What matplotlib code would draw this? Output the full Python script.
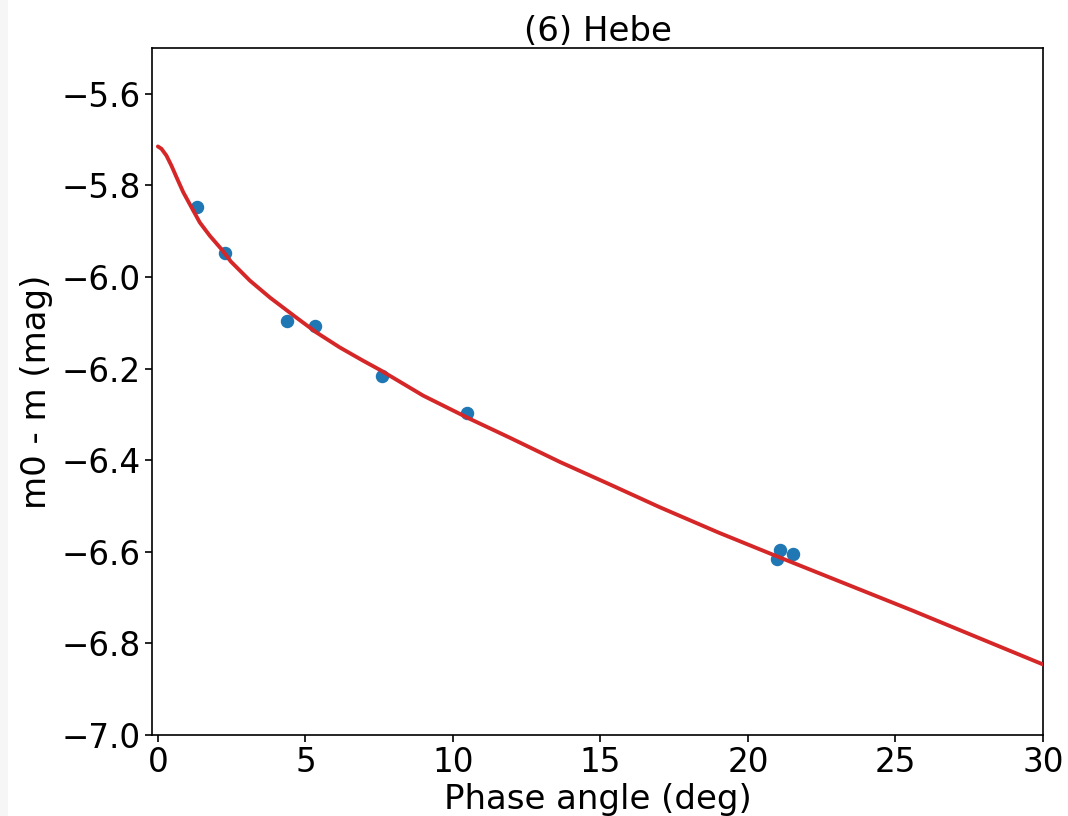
import matplotlib
matplotlib.use("Agg")
import matplotlib.pyplot as plt
from matplotlib.patches import Rectangle

# Observed reduced magnitudes
obs_phase = [1.32, 2.27, 4.36, 5.32, 7.58, 10.48, 20.97, 21.10, 21.51]
obs_mag = [-5.848, -5.948, -6.097, -6.107, -6.216, -6.297, -6.616, -6.596, -6.605]

# Fitted phase curve, sampled
fit_phase = [0.0, 0.12, 0.29, 0.46, 0.63, 0.86, 1.14, 1.42, 1.76, 2.15,
             2.47, 3.12, 3.80, 4.70, 5.37, 6.17, 6.96, 7.53, 8.99, 10.58,
             11.93, 13.63, 15.32, 17.02, 19.0, 21.1, 25.6, 30.0]
fit_mag = [-5.715, -5.720, -5.735, -5.757, -5.782, -5.815, -5.848, -5.881,
           -5.910, -5.939, -5.966, -6.008, -6.045, -6.089, -6.121, -6.154,
           -6.183, -6.203, -6.259, -6.310, -6.351, -6.404, -6.453, -6.503,
           -6.558, -6.613, -6.729, -6.846]

fig = plt.figure(figsize=(10.68, 8.16), dpi=100)
fig.patches.append(Rectangle((0, 0), 8 / 1068, 1, transform=fig.transFigure,
                             facecolor="#f6f6f6", edgecolor="none", zorder=0))
ax = fig.add_axes([0.1423, 0.0993, 0.8343, 0.8419])

ax.scatter(obs_phase, obs_mag, s=75, color="#1f77b4", zorder=2)
ax.plot(fit_phase, fit_mag, color="#d62728", lw=2.8, zorder=3,
        solid_joinstyle="round", solid_capstyle="round")

ax.set_xlim(-0.2, 30)
ax.set_ylim(-7.0, -5.5)
ax.set_xticks([0, 5, 10, 15, 20, 25, 30])
ax.set_yticks([-7.0, -6.8, -6.6, -6.4, -6.2, -6.0, -5.8, -5.6])
ax.tick_params(labelsize=23.5, length=5, width=1.2, pad=3)
for s in ax.spines.values():
    s.set_linewidth(1.2)

ax.set_xlabel("Phase angle (deg)", fontsize=24.5, labelpad=3)
ax.set_ylabel("m0 - m (mag)", fontsize=24.5, labelpad=6)
ax.set_title("(6) Hebe", fontsize=24.5, pad=5)

fig.savefig("out.png", dpi=100)
